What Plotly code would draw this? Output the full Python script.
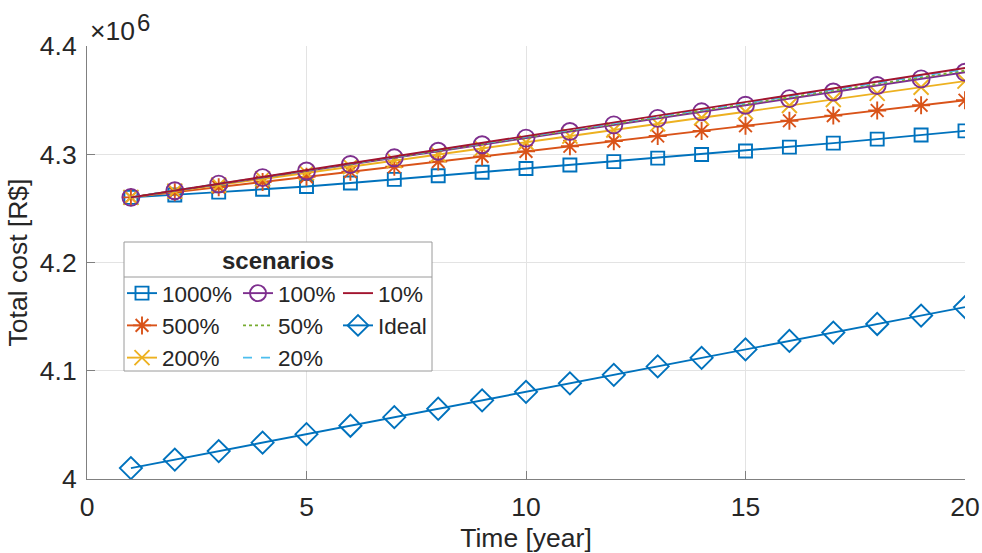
import plotly.graph_objects as go

# Time axis (years)
years = list(range(1, 21))

# Total cost per scenario, in units of 10^6 R$
cost_1000 = [4.2602, 4.2624, 4.2650, 4.2676, 4.2702, 4.2735, 4.2768, 4.2801, 4.2834, 4.2868,
             4.2900, 4.2932, 4.2964, 4.2997, 4.3030, 4.3066, 4.3103, 4.3140, 4.3178, 4.3216]
cost_500 = [4.2602, 4.2649, 4.2696, 4.2744, 4.2791, 4.2838, 4.2885, 4.2932, 4.2980, 4.3027,
            4.3074, 4.3121, 4.3168, 4.3215, 4.3263, 4.3310, 4.3357, 4.3404, 4.3452, 4.3499]
cost_200 = [4.2602, 4.2659, 4.2715, 4.2772, 4.2828, 4.2885, 4.2941, 4.2998, 4.3054, 4.3111,
            4.3167, 4.3224, 4.3280, 4.3337, 4.3393, 4.3450, 4.3506, 4.3563, 4.3619, 4.3676]
cost_100 = [4.2602, 4.2663, 4.2724, 4.2784, 4.2845, 4.2906, 4.2967, 4.3028, 4.3088, 4.3149,
            4.3210, 4.3271, 4.3331, 4.3392, 4.3453, 4.3514, 4.3575, 4.3635, 4.3696, 4.3757]
cost_50 = [4.2602, 4.2664, 4.2725, 4.2787, 4.2848, 4.2910, 4.2971, 4.3033, 4.3095, 4.3156,
           4.3218, 4.3279, 4.3341, 4.3403, 4.3464, 4.3526, 4.3587, 4.3649, 4.3710, 4.3772]
cost_20 = [4.2602, 4.2664, 4.2727, 4.2789, 4.2851, 4.2913, 4.2976, 4.3038, 4.3100, 4.3162,
           4.3225, 4.3287, 4.3349, 4.3411, 4.3474, 4.3536, 4.3598, 4.3660, 4.3723, 4.3785]
cost_10 = [4.2602, 4.2665, 4.2728, 4.2791, 4.2854, 4.2916, 4.2979, 4.3042, 4.3105, 4.3168,
           4.3231, 4.3294, 4.3357, 4.3420, 4.3483, 4.3546, 4.3608, 4.3671, 4.3734, 4.3797]
cost_ideal = [4.0101, 4.0179, 4.0258, 4.0336, 4.0414, 4.0492, 4.0571, 4.0649, 4.0727, 4.0805,
              4.0884, 4.0962, 4.1040, 4.1119, 4.1197, 4.1275, 4.1353, 4.1432, 4.1510, 4.1588]

x_ticks = [0, 5, 10, 15, 20]
y_ticks = [4.0, 4.1, 4.2, 4.3, 4.4]
y_tick_text = ["4", "4.1", "4.2", "4.3", "4.4"]

FONT = "Liberation Sans, Arial, Helvetica, sans-serif"
BOLD_FONT = "Arial, Helvetica, sans-serif"
TXT = "#262626"
AX = "#808080"
GRID = "#e3e3e3"
W, H = 982, 553
PL, PR, PT, PB = 87, 965, 46, 479


def px_x(px):
    return (px - PL) / (PR - PL)


def px_y(py):
    return (PB - py) / (PB - PT)


# (name, values, color, marker symbol, marker size, dash, legend column)
series = [
    ("1000%", cost_1000, "#0072BD", "square-open", 13, "solid", "legend"),
    ("500%", cost_500, "#D95319", "asterisk-open", 15, "solid", "legend"),
    ("200%", cost_200, "#EDB120", "x-thin-open", 15, "solid", "legend"),
    ("100%", cost_100, "#7E2F8E", "circle-open", 17, "solid", "legend2"),
    ("50%", cost_50, "#77AC30", None, 0, "dot", "legend2"),
    ("20%", cost_20, "#4DBEEE", None, 0, "dash", "legend2"),
    ("10%", cost_10, "#A2142F", None, 0, "solid", "legend3"),
    ("Ideal", cost_ideal, "#0072BD", "diamond-open", 17, "solid", "legend3"),
]

fig = go.Figure()
for name, vals, color, sym, size, dash, leg in series:
    kw = dict(
        x=years, y=vals, name=name, legend=leg,
        line=dict(color=color, width=1.9, dash=dash),
    )
    if sym:
        kw["mode"] = "lines+markers"
        kw["marker"] = dict(symbol=sym, size=size, color=color,
                            line=dict(color=color, width=1.9))
    else:
        kw["mode"] = "lines"
    fig.add_trace(go.Scatter(**kw))

LEG_FONT = dict(family=FONT, size=22.5, color=TXT)
leg_common = dict(orientation="v", xanchor="left", yanchor="top",
                  bgcolor="rgba(0,0,0,0)", borderwidth=0, font=LEG_FONT,
                  tracegroupgap=0)
leg_top = px_y(272)

# Legend frame, title and separator
box = dict(x0=px_x(124), x1=px_x(432), y0=px_y(371), y1=px_y(242))
shapes = [
    dict(type="rect", xref="paper", yref="paper", layer="above",
         fillcolor="white", line=dict(color="#9a9a9a", width=1), **box),
    dict(type="line", xref="paper", yref="paper", layer="above",
         x0=box["x0"], x1=box["x1"], y0=px_y(277), y1=px_y(277),
         line=dict(color="#9a9a9a", width=1)),
]

annotations = [
    dict(text="scenarios", xref="paper", yref="paper",
         x=px_x(278), y=px_y(260), xanchor="center", yanchor="middle",
         showarrow=False,
         font=dict(family=BOLD_FONT, size=24, color=TXT, weight="bold")),
    # axis multiplier
    dict(text="\u00d710", xref="paper", yref="paper",
         x=px_x(88), y=px_y(31), xanchor="left", yanchor="middle",
         showarrow=False, font=dict(family=FONT, size=26.5, color=TXT)),
    dict(text="6", xref="paper", yref="paper",
         x=px_x(135), y=px_y(23), xanchor="left", yanchor="middle",
         showarrow=False, font=dict(family=FONT, size=24, color=TXT)),
]

axis_common = dict(
    showgrid=True, gridcolor=GRID, gridwidth=1,
    showline=True, linecolor=AX, linewidth=1, mirror=False,
    ticks="inside", ticklen=8, tickcolor=AX, tickwidth=1,
    zeroline=False, automargin=False,
    tickfont=dict(family=FONT, size=26.5, color=TXT),
)

fig.update_layout(
    width=W, height=H,
    margin=dict(l=PL, r=W - PR, t=PT, b=H - PB, pad=0, autoexpand=False),
    paper_bgcolor="white", plot_bgcolor="white",
    font=dict(family=FONT, size=26.5, color=TXT),
    showlegend=True,
    legend=dict(x=px_x(122), y=leg_top, **leg_common),
    legend2=dict(x=px_x(238), y=leg_top, **leg_common),
    legend3=dict(x=px_x(338), y=leg_top, **leg_common),
    shapes=shapes,
    annotations=annotations,
    xaxis=dict(
        range=[0, 20], tickvals=x_ticks, ticktext=[str(v) for v in x_ticks],
        ticklabelstandoff=4,
        title=dict(text="Time [year]", standoff=12,
                   font=dict(family=FONT, size=26.5, color=TXT)),
        **axis_common,
    ),
    yaxis=dict(
        range=[4.0, 4.4], tickvals=y_ticks, ticktext=y_tick_text,
        ticklabelstandoff=4,
        title=dict(text="Total cost [R$]", standoff=4,
                   font=dict(family=FONT, size=26.5, color=TXT)),
        **axis_common,
    ),
)

fig.write_html("out.html")
